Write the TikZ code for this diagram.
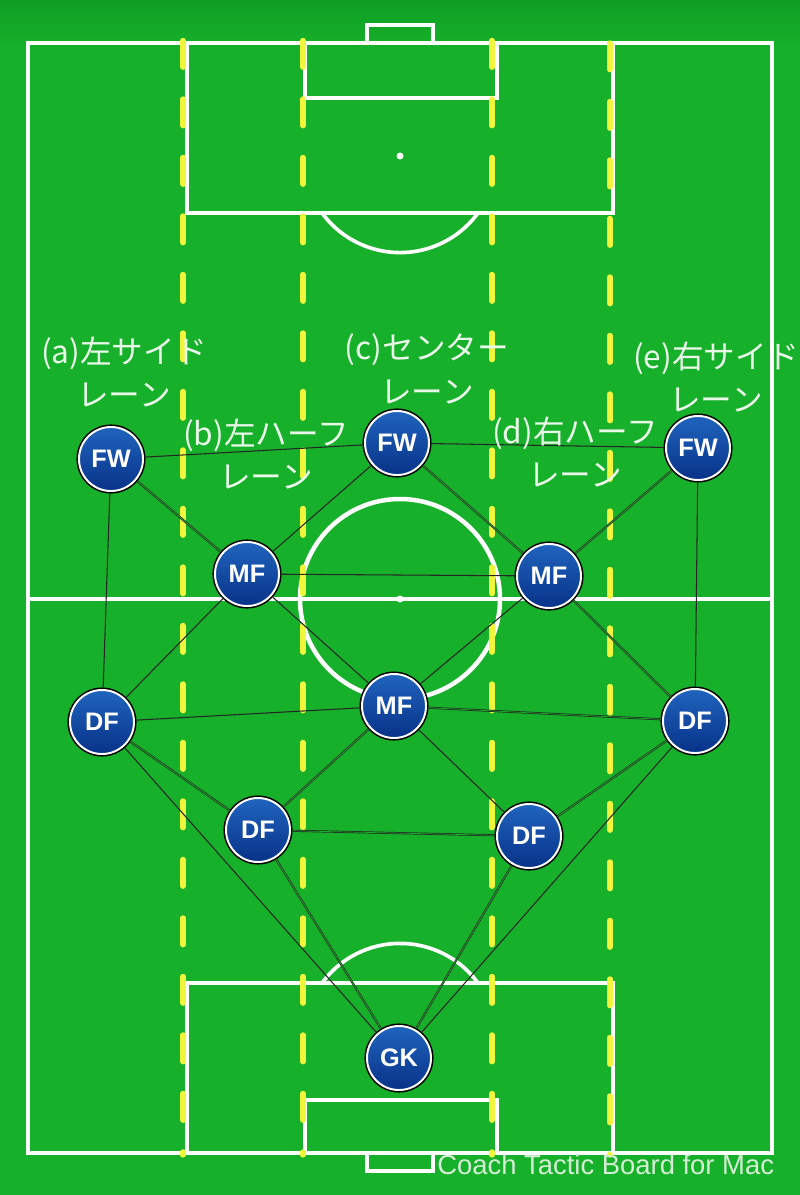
\documentclass[tikz,border=0pt]{standalone}
\usepackage{fontspec}
\setmainfont{Liberation Sans}
\newfontfamily\jpfont{Noto Sans CJK JP}
\definecolor{pitch}{RGB}{22,176,42}
\definecolor{pitchdark}{RGB}{15,158,36}
\definecolor{laneyellow}{RGB}{240,245,62}
\definecolor{chipblue}{RGB}{32,100,190}
\definecolor{chipnavy}{RGB}{8,50,136}
\definecolor{labelwhite}{RGB}{234,248,234}
\definecolor{markwhite}{RGB}{212,238,212}
\tikzset{
    fieldline/.style={
        draw=white,
        line width=2.6pt
    },
    lane/.style={
        draw=laneyellow,
        line width=3.8pt,
        line cap=round,
        dash pattern=on 19pt off 22.6pt
    },
    link/.style={
        draw=black!85,
        line width=0.75pt
    },
    pairlink/.style={
        draw=black!85,
        line width=0.5pt,
        double=pitch,
        double distance=0.5pt
    },
    player/.style={
        circle,
        minimum size=1.6cm,
        inner sep=0pt,
        outer sep=1.8pt,
        draw=white,
        line width=1.4pt,
        top color=chipblue,
        bottom color=chipnavy,
        preaction={draw=black, line width=3.6pt},
        text=white,
        font=\fontsize{18}{18}\selectfont\bfseries
    },
    lanelabel/.style={
        align=center,
        inner sep=0pt,
        text=labelwhite,
        font=\jpfont\fontsize{22.5}{31}\selectfont
    },
    watermark/.style={
        inner sep=0pt,
        text=markwhite,
        font=\fontsize{19.5}{19.5}\selectfont
    }
}

\begin{document}
\begin{tikzpicture}[x=0.025cm, y=-0.025cm]

    % Pitch
    \useasboundingbox (0,0) rectangle (800,1195);
    \fill[pitch] (0,0) rectangle (800,1195);
    \shade[top color=pitchdark, bottom color=pitch] (0,0) rectangle (800,45);

    % Field markings
    \draw[fieldline] (28,43) rectangle (772,1153);
    \draw[fieldline] (28,599) -- (772,599);
    \draw[fieldline, line width=3.2pt] (400,599) circle[radius=100];
    \fill[white] (400,599) circle[radius=3.5];

    % Top end
    \draw[fieldline] (187,43) rectangle (613,213);
    \draw[fieldline] (305,43) rectangle (497,98);
    \draw[fieldline] (367,43) -- (367,25) -- (433,25) -- (433,43);
    \fill[white] (400,156) circle[radius=3.5];
    \draw[fieldline] (400,156) ++(36.2:96.6) arc[start angle=36.2, end angle=143.8, radius=96.6];

    % Bottom end
    \draw[fieldline] (187,983) rectangle (613,1153);
    \draw[fieldline] (305,1100) rectangle (497,1153);
    \draw[fieldline] (367,1153) -- (367,1171) -- (433,1171) -- (433,1153);
    \draw[fieldline] (400,1040) ++(-36.2:96.6) arc[start angle=-36.2, end angle=-143.8, radius=96.6];

    % Lanes
    \draw[lane] (183,40.5) -- (183,1155);
    \draw[lane] (303,40.5) -- (303,1155);
    \draw[lane] (492,40.5) -- (492,1155);
    \draw[lane] (610,43) -- (610,1155);

    % Players
    \node[player] (fwl) at (111,459) {FW};
    \node[player] (fwc) at (397,443) {FW};
    \node[player] (fwr) at (698,448) {FW};
    \node[player] (mfl) at (247,574) {MF};
    \node[player] (mfr) at (549,576) {MF};
    \node[player] (mfc) at (394,706) {MF};
    \node[player] (dfl) at (102,722) {DF};
    \node[player] (dfr) at (695,721) {DF};
    \node[player] (dfcl) at (258,830) {DF};
    \node[player] (dfcr) at (529,836) {DF};
    \node[player] (gk) at (399,1058) {GK};

    % Links
    \draw[link] (fwl) -- (fwc);
    \draw[link] (fwc) -- (fwr);
    \draw[pairlink] (fwl) -- (mfl);
    \draw[link] (fwl) -- (dfl);
    \draw[link] (fwc) -- (mfl);
    \draw[pairlink] (fwc) -- (mfr);
    \draw[pairlink] (fwr) -- (mfr);
    \draw[link] (fwr) -- (dfr);
    \draw[link] (mfl) -- (mfr);
    \draw[link] (mfl) -- (dfl);
    \draw[link] (mfl) -- (mfc);
    \draw[link] (mfr) -- (mfc);
    \draw[pairlink] (mfr) -- (dfr);
    \draw[link] (mfc) -- (dfl);
    \draw[pairlink] (mfc) -- (dfr);
    \draw[pairlink] (mfc) -- (dfcl);
    \draw[link] (mfc) -- (dfcr);
    \draw[pairlink] (dfl) -- (dfcl);
    \draw[pairlink] (dfr) -- (dfcr);
    \draw[pairlink] (dfcl) -- (dfcr);
    \draw[link] (dfl) -- (gk);
    \draw[link] (dfr) -- (gk);
    \draw[pairlink] (dfcl) -- (gk);
    \draw[pairlink] (dfcr) -- (gk);

    % Lane labels
    \node[lanelabel] (lanea) at (124,372) {(a)左サイド\\レーン};
    \node[lanelabel] (laneb) at (266,454) {(b)左ハーフ\\レーン};
    \node[lanelabel] (lanec) at (427,369) {(c)センター\\レーン};
    \node[lanelabel] (laned) at (575,452) {(d)右ハーフ\\レーン};
    \node[lanelabel] (lanee) at (716,377) {(e)右サイド\\レーン};

    % Watermark
    \node[watermark, anchor=base west] (mark) at (437,1174) {Coach Tactic Board for Mac};

\end{tikzpicture}
\end{document}
